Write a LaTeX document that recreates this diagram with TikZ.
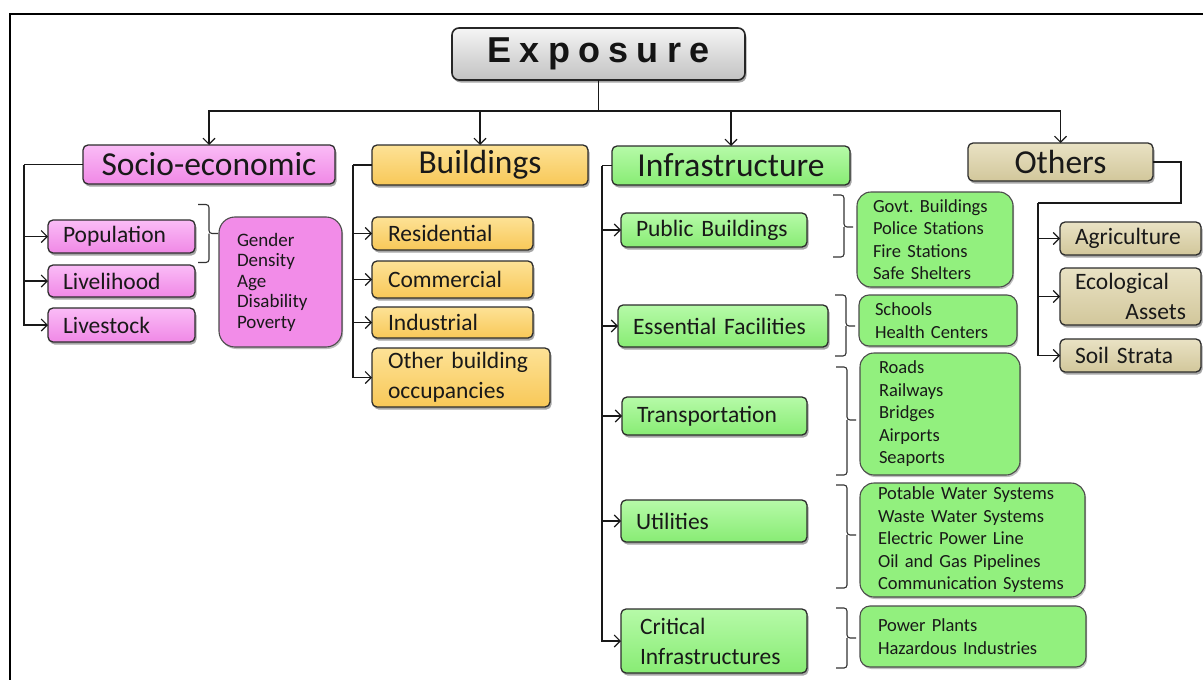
\documentclass[tikz,border=0pt]{standalone}
\usepackage{fontspec}
\setmainfont{Carlito}
\newfontfamily\titlefont[LetterSpace=23]{Liberation Sans}
\usetikzlibrary{arrows.meta,shadows,calc}

\definecolor{pinkF}{RGB}{240,136,230}
\definecolor{pinkT}{RGB}{250,188,246}
\definecolor{pinkD}{RGB}{242,140,232}
\definecolor{yelF}{RGB}{248,200,88}
\definecolor{yelT}{RGB}{253,226,150}
\definecolor{grnF}{RGB}{136,236,116}
\definecolor{grnT}{RGB}{182,250,168}
\definecolor{grnD}{RGB}{146,240,126}
\definecolor{khaF}{RGB}{210,199,155}
\definecolor{khaT}{RGB}{233,226,196}
\definecolor{edge}{RGB}{45,45,45}

% bracket pointing right, tip at #1, reaching #2 up and #3 down
\newcommand{\BraceAt}[3]{%
  \begin{scope}[shift={#1}]
    \draw[brace] (-21,-#2) -- (-10,-#2) -- (-10,0) -- (-1,0);
    \draw[brace] (-10,0) -- (-10,#3) -- (-21,#3);
  \end{scope}}

\frenchspacing
\begin{document}
\begin{tikzpicture}[x=1pt,y=-1pt,
  conn/.style={line width=1.8pt, draw=black!90},
  arr/.style={conn, -{Straight Barb[length=6pt,width=12pt,line width=1.1pt]}},
  brace/.style={draw=black!80, line width=1.1pt, rounded corners=3pt},
  box/.style={draw=edge, line width=1.3pt, rounded corners=5pt, inner ysep=0pt,
    outer sep=0pt, text=black!90,
    drop shadow={shadow xshift=1.5pt, shadow yshift=-2.5pt, opacity=0.35, fill=black}},
  cat/.style={box, inner xsep=4pt, minimum height=39pt, font=\fontsize{33.5}{36}\selectfont},
  sub/.style={box, inner xsep=15pt, align=left, font=\fontsize{23.5}{30}\selectfont},
  det/.style={draw=edge!85, line width=1.1pt, rounded corners=14pt, inner xsep=17pt,
    inner ysep=0pt, outer sep=0pt, align=left, text=black!90,
    font=\fontsize{18.5}{22.5}\selectfont,
    drop shadow={shadow xshift=1.2pt, shadow yshift=-2pt, opacity=0.25, fill=black}},
  fillpink/.style={top color=pinkT, bottom color=pinkF},
  fillyel/.style={top color=yelT, bottom color=yelF},
  fillgrn/.style={top color=grnT, bottom color=grnF},
  fillkha/.style={top color=khaT, bottom color=khaF},
  titlebox/.style={draw=black!85, line width=1.6pt, rounded corners=7pt,
    top color=gray!8, bottom color=gray!48, inner sep=0pt, outer sep=0pt,
    minimum width=293pt, minimum height=52pt, text=black!92,
    font=\titlefont\fontsize{36}{40}\selectfont\bfseries,
    drop shadow={shadow xshift=1.5pt, shadow yshift=-2.5pt, opacity=0.35, fill=black}}
]
\useasboundingbox (0,0) rectangle (1203,680);
\fill[white] (0,0) rectangle (1203,680);

% outer frame
\draw[line width=2.6pt] (10,680) -- (10,14) -- (1203,14);

% root
\node[titlebox] (expo) at (598.5,54) {Exposure};

% main categories
\node[cat, fillpink, minimum width=252pt] (socio)  at (209,164.5)  {Socio-economic};
\node[cat, fillyel,  minimum width=216pt, minimum height=40pt] (bldg) at (480,165) {Buildings};
\node[cat, fillgrn,  minimum width=238pt] (infra)  at (731,165.5)  {Infrastructure};
\node[cat, fillkha,  minimum width=185pt, minimum height=38pt] (others) at (1060.5,162) {Others};

% root to categories
\coordinate (bus) at (598.5,111);
\draw[conn] (expo.south) -- (bus);
\draw[arr] (bus) -| (socio.north);
\draw[arr] (bus) -| (bldg.north);
\draw[arr] (bus) -| (infra.north);
\draw[arr] (bus) -| (others.north);

% ---- socio-economic
\node[sub, fillpink, minimum width=147pt, text width=117pt, minimum height=33pt] (pop)   at (121.5,236.5) {Population};
\node[sub, fillpink, minimum width=147pt, text width=117pt, minimum height=32pt] (live)  at (121.5,281)   {Livelihood};
\node[sub, fillpink, minimum width=147pt, text width=117pt, minimum height=34pt] (stock) at (121.5,325)   {Livestock};
\node[det, fill=pinkD, rounded corners=16pt, minimum width=123pt, text width=87pt, inner xsep=18pt,
      minimum height=130pt, font=\fontsize{19}{20.5}\selectfont] (sdet) at (280.5,282)
  {Gender\\Density\\Age\\Disability\\Poverty};

\coordinate (sv) at (24,164.5);
\draw[conn] (socio.west) -- (sv);
\draw[arr] (sv) |- (stock.west);
\draw[arr] (sv |- pop.west) -- (pop.west);
\draw[arr] (sv |- live.west) -- (live.west);
\BraceAt{($(sdet.west |- pop.east)+(0,-3)$)}{29}{29}

% ---- buildings
\node[sub, fillyel, minimum width=161pt, text width=129pt, inner xsep=16pt, minimum height=33pt] (res) at (452.5,233.5) {Residential};
\node[sub, fillyel, minimum width=161pt, text width=129pt, inner xsep=16pt, minimum height=37pt] (com) at (452.5,279.5) {Commercial};
\node[sub, fillyel, minimum width=161pt, text width=129pt, inner xsep=16pt, minimum height=31pt] (ind) at (452.5,322.5) {Industrial};
\node[sub, fillyel, minimum width=178pt, text width=146pt, inner xsep=16pt, minimum height=59pt] (oth) at (461,377.5)
  {Other building\\occupancies};

\coordinate (bv) at (353,165);
\draw[conn] (bldg.west) -- (bv);
\draw[arr] (bv) |- (oth.west);
\draw[arr] (bv |- res.west) -- (res.west);
\draw[arr] (bv |- com.west) -- (com.west);
\draw[arr] (bv |- ind.west) -- (ind.west);

% ---- infrastructure
\node[sub, fillgrn, minimum width=186pt, text width=156pt, minimum height=34pt] (pb) at (714,230)   {Public Buildings};
\node[sub, fillgrn, minimum width=210pt, text width=180pt, minimum height=42pt] (ef) at (723,326)   {Essential Facilities};
\node[sub, fillgrn, minimum width=185pt, text width=155pt, minimum height=38pt] (tr) at (714.5,416) {Transportation};
\node[sub, fillgrn, minimum width=186pt, text width=156pt, minimum height=42pt] (ut) at (714,521)   {Utilities};
\node[sub, fillgrn, minimum width=186pt, text width=148pt, inner xsep=19pt, minimum height=64pt] (ci) at (714,641) {Critical\\Infrastructures};

\node[det, fill=grnD, minimum width=156pt, text width=124pt, inner xsep=16pt, minimum height=95pt]  (pbd) at (935,239.5)
  {Govt. Buildings\\Police Stations\\Fire Stations\\Safe Shelters};
\node[det, fill=grnD, rounded corners=10pt, minimum width=158pt, text width=126pt, inner xsep=16pt, minimum height=51pt]  (efd) at (938,320.5)
  {Schools\\Health Centers};
\node[det, fill=grnD, minimum width=160pt, text width=122pt, inner xsep=19pt, minimum height=122pt] (trd) at (940,414)
  {Roads\\Railways\\Bridges\\Airports\\Seaports};
\node[det, fill=grnD, minimum width=225pt, text width=189pt, inner xsep=18pt, minimum height=114pt] (utd) at (972.5,540)
  {Potable Water Systems\\Waste Water Systems\\Electric Power Line\\Oil and Gas Pipelines\\Communication Systems};
\node[det, fill=grnD, rounded corners=10pt, minimum width=226pt, text width=190pt, inner xsep=18pt, minimum height=61pt]  (cid) at (973,636.5)
  {Power Plants\\Hazardous Industries};

\coordinate (iv) at (602,165.5);
\draw[conn] (infra.west) -- (iv);
\draw[arr] (iv) |- (ci.west);
\draw[arr] (iv |- pb.west) -- (pb.west);
\draw[arr] (iv |- ef.west) -- (ef.west);
\draw[arr] (iv |- tr.west) -- (tr.west);
\draw[arr] (iv |- ut.west) -- (ut.west);

\BraceAt{($(pbd.west |- pb.east)+(-3,-3)$)}{32}{30}
\BraceAt{($(efd.west |- ef.east)+(-3,0)$)}{31}{30}
\BraceAt{($(trd.west |- tr.east)+(-3,4)$)}{53}{55}
\BraceAt{($(utd.west |- ut.east)+(-3,14)$)}{50}{53}
\BraceAt{($(cid.west |- ci.east)+(-3,-3)$)}{30}{30}

% ---- others
\node[sub, fillkha, minimum width=141pt, text width=111pt, minimum height=33pt] (agri) at (1130.5,238.5) {Agriculture};
\node[sub, fillkha, minimum width=141pt, text width=111pt, minimum height=57pt] (eco)  at (1130.5,296.5) {Ecological\\\hspace*{\fill}Assets};
\node[sub, fillkha, minimum width=141pt, text width=111pt, minimum height=33pt] (soil) at (1130.5,355.5) {Soil Strata};

\coordinate (oc) at (1181,203);
\coordinate (ov) at (1038,203);
\draw[conn] (others.east) -| (oc) -- (ov);
\draw[arr] (ov) |- (soil.west);
\draw[arr] (ov |- agri.west) -- (agri.west);
\draw[arr] (ov |- eco.west) -- (eco.west);

\end{tikzpicture}
\end{document}
